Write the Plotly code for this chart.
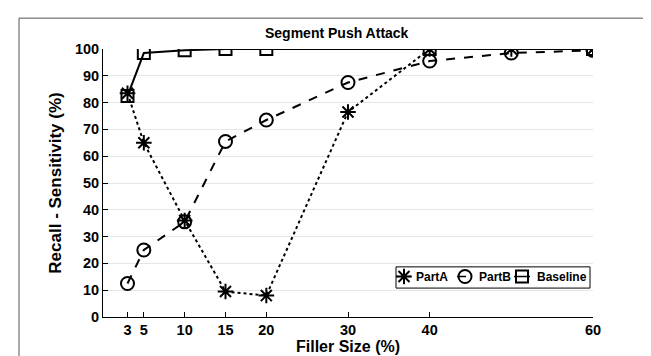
import plotly.graph_objects as go

x_all = [3, 5, 10, 15, 20, 30, 40, 50, 60]
partA = [83.5, 65, 36, 9.5, 8, 76.5, 100, 100, 100]
partB = [12.5, 25, 35.5, 65.5, 73.5, 87.5, 95.5, 98.5, 99.5]
x_base = [3, 5, 10, 15, 20, 40, 60]
baseline = [82.5, 98.5, 99.5, 100, 100, 100, 100]
x_ticks = [3, 5, 10, 15, 20, 30, 40, 60]
y_ticks = list(range(0, 101, 10))
series_names = ["PartA", "PartB", "Baseline"]

FONT = "Liberation Sans, Arial, sans-serif"
W, H = 651, 356
L, R, T, B = 95, 585, 41, 319

styles = {
    "PartA": dict(dash="dot", symbol="asterisk-open", size=13),
    "PartB": dict(dash="dash", symbol="circle-open", size=13),
    "Baseline": dict(dash="solid", symbol="square-open", size=12),
}

fig = go.Figure()
for name, xs, ys in [("PartA", x_all, partA), ("PartB", x_all, partB), ("Baseline", x_base, baseline)]:
    st = styles[name]
    fig.add_trace(go.Scatter(x=xs, y=ys, name=name, mode="lines+markers", showlegend=False,
                             line=dict(color="black", width=2, dash=st["dash"]),
                             marker=dict(symbol=st["symbol"], size=st["size"], color="black",
                                         line=dict(color="black", width=2))))

def px(xp):
    return (xp - L) / (R - L)

def py(yp):
    return (B - yp) / (B - T)

# manual legend (pixel-positioned on an overlay axis)
leg_box = (388, 582, 267, 289)
leg_sym_x = [396, 457, 514]
leg_txt_x = [406, 469, 527]
leg_y = 277
shapes = [dict(type="rect", xref="paper", yref="paper",
               x0=px(11), x1=px(645), y0=py(362), y1=py(9),
               line=dict(color="#555555", width=1), fillcolor="rgba(0,0,0,0)", layer="below"),
          dict(type="rect", xref="paper", yref="paper",
               x0=px(leg_box[0]), x1=px(leg_box[1]), y0=py(leg_box[3]), y1=py(leg_box[2]),
               line=dict(color="black", width=1), fillcolor="white", layer="between")]
annotations = [dict(text="<b>Segment Push Attack</b>", x=px(329), y=py(24), xref="paper", yref="paper",
                    showarrow=False, xanchor="center", yanchor="middle",
                    font=dict(family=FONT, size=14, color="black"))]
for name, sx, tx in zip(series_names, leg_sym_x, leg_txt_x):
    st = styles[name]
    fig.add_trace(go.Scatter(x=[sx - 8, sx + 8], y=[leg_y, leg_y], mode="lines", showlegend=False,
                             xaxis="x2", yaxis="y2", hoverinfo="skip",
                             line=dict(color="black", width=1.5, dash=st["dash"])))
    fig.add_trace(go.Scatter(x=[sx], y=[leg_y], mode="markers", showlegend=False,
                             xaxis="x2", yaxis="y2", hoverinfo="skip",
                             marker=dict(symbol=st["symbol"], size=st["size"], color="black",
                                         line=dict(color="black", width=2))))
    annotations.append(dict(text="<b>" + name + "</b>", x=px(tx), y=py(leg_y), xref="paper", yref="paper",
                            showarrow=False, xanchor="left", yanchor="middle",
                            font=dict(family=FONT, size=12, color="black")))

fig.update_layout(
    width=W, height=H,
    margin=dict(l=L, r=W - R, t=T, b=H - B, pad=0),
    paper_bgcolor="white", plot_bgcolor="white",
    font=dict(family=FONT, color="black", size=13),
    showlegend=False,
    xaxis=dict(range=[0, 60], tickvals=x_ticks, ticktext=[str(v) for v in x_ticks],
               ticks="inside", ticklen=5, tickcolor="black", showgrid=False,
               showline=True, linecolor="black", linewidth=1, zeroline=False,
               tickfont=dict(family=FONT, size=14.5, weight="bold"),
               title=dict(text="<b>Filler Size (%)</b>", font=dict(family=FONT, size=16), standoff=2)),
    yaxis=dict(range=[0, 100], tickvals=y_ticks,
               ticks="inside", ticklen=5, tickcolor="black", showgrid=True,
               gridcolor="#e6e6e6", gridwidth=1,
               showline=True, linecolor="black", linewidth=1, zeroline=False,
               tickfont=dict(family=FONT, size=14.5, weight="bold"),
               title=dict(text="<b>Recall - Sensitivity (%)</b>", font=dict(family=FONT, size=17), standoff=8)),
    xaxis2=dict(overlaying="x", range=[L, R], visible=False, fixedrange=True),
    yaxis2=dict(overlaying="y", range=[B, T], visible=False, fixedrange=True),
    annotations=annotations,
    shapes=shapes,
)

fig.write_html("out.html")
